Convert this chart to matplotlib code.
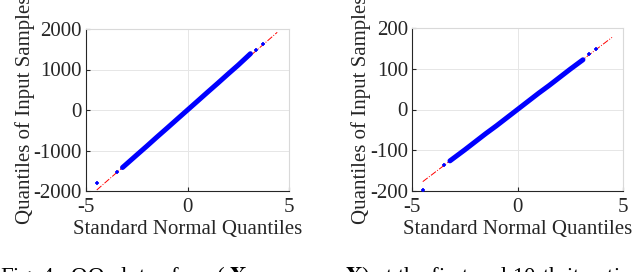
import numpy as np
import matplotlib.pyplot as plt

plt.rcParams['font.family'] = ['Liberation Serif', 'DejaVu Serif']
plt.rcParams['mathtext.fontset'] = 'stix'
plt.rcParams['axes.unicode_minus'] = False

# left panel: quantile pairs
left_band_x = [-3.2, -2.5, -2.0, -1.5, -1.0, -0.5, 0.0, 0.5, 1.0, 1.5, 2.0, 2.5, 3.1]
left_band_y = [-1420, -1110, -890, -665, -445, -222, 0, 222, 445, 665, 890, 1110, 1390]
left_tail_x = [-4.47, -3.49, 3.37, 3.70]
left_tail_y = [-1795, -1523, 1482, 1622]
left_ref_x = [-4.47, 4.42]
left_ref_y = [-1975, 1918]

# right panel
right_band_x = [-3.2, -2.5, -2.0, -1.5, -1.0, -0.5, 0.0, 0.5, 1.0, 1.5, 2.0, 2.5, 3.1]
right_band_y = [-126, -99, -79, -59, -40, -20, 0, 20, 40, 59, 79, 99, 122]
right_tail_x = [-4.49, -3.48, 3.39, 3.72]
right_tail_y = [-198, -135, 136, 148]
right_ref_x = [-4.49, 4.48]
right_ref_y = [-177, 177]

fig = plt.figure(figsize=(6.4, 2.72), dpi=100)
ax1 = fig.add_axes([86/640, 1 - 191/272, 203/640, 162/272])
ax2 = fig.add_axes([412/640, 1 - 191/272, 211/640, 163/272])

panels = [
    (ax1, left_band_x, left_band_y, left_tail_x, left_tail_y, left_ref_x, left_ref_y,
     [-2000, -1000, 0, 1000, 2000]),
    (ax2, right_band_x, right_band_y, right_tail_x, right_tail_y, right_ref_x, right_ref_y,
     [-200, -100, 0, 100, 200]),
]

for ax, bx, by, tx, ty, rx, ry, yt in panels:
    ax.plot(rx, ry, color='red', linestyle='-.', linewidth=0.7, zorder=2)
    ax.plot(bx, by, color='blue', linewidth=3.6, solid_capstyle='round', zorder=3)
    ax.plot(tx, ty, '+', color='blue', markersize=3.5, markeredgewidth=1.2, zorder=3)
    ax.set_xlim(-5, 5)
    ax.set_ylim(yt[0], yt[-1])
    ax.set_xticks([-5, 0, 5])
    ax.set_yticks(yt)
    ax.grid(True, color='#e6e6e6', linewidth=0.7)
    ax.set_axisbelow(True)
    for s in ['top', 'right']:
        ax.spines[s].set_color('#d9d9d9')
    for s in ['left', 'bottom']:
        ax.spines[s].set_color('#262626')
        ax.spines[s].set_linewidth(0.8)
    ax.tick_params(direction='in', length=3, labelsize=15, colors='#262626',
                   top=False, right=False)
    ax.tick_params(axis='y', pad=3)
    ax.tick_params(axis='x', pad=5)
    ax.set_xlabel('Standard Normal Quantiles', fontsize=15, labelpad=2, color='#262626')
    ax.set_ylabel('Quantiles of Input Samples', fontsize=15, labelpad=-1, color='#262626')

# caption, cut off by the bottom edge as in the source page
fig.text(0.0, 1 - 264/272, r'Fig. 4.  QQ plots of vec( $\mathbf{X}_{k}-$',
         fontsize=16.5, va='top', ha='left')
fig.text(345/640, 1 - 264/272, r'$\mathbf{X}$) at the first and 10-th iteration',
         fontsize=16.5, va='top', ha='left')

fig.savefig('out.png', dpi=100)
